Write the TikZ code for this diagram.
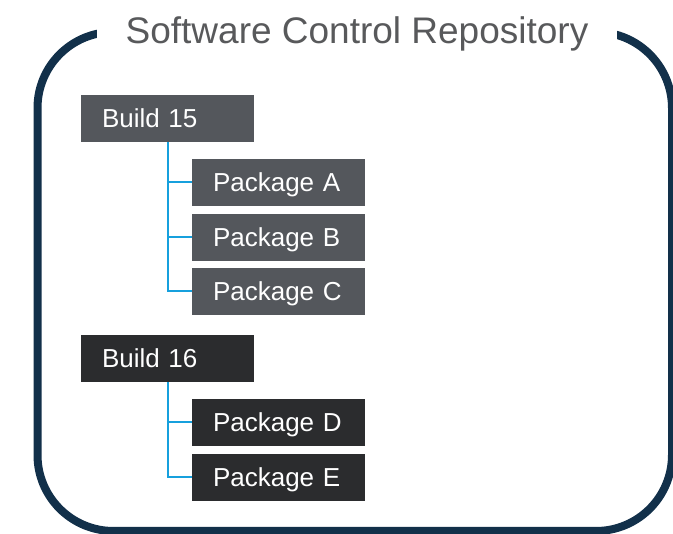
\documentclass[tikz,border=0pt]{standalone}
\usepackage{fontspec}
\setmainfont{Liberation Sans}
\definecolor{frameblue}{RGB}{18,48,74}
\definecolor{linkblue}{RGB}{22,160,221}
\definecolor{boxgray}{RGB}{84,87,92}
\definecolor{boxdark}{RGB}{43,44,46}
\definecolor{titlegray}{RGB}{88,89,91}

\begin{document}
\begin{tikzpicture}[x=1pt,y=-1pt,
  box/.style={text=white,text width=131pt,inner xsep=21pt,inner ysep=0pt,
    minimum height=47pt,text height=19pt,text depth=0pt,align=left,
    font=\fontsize{26}{30}\selectfont},
  link/.style={draw=linkblue,line width=2pt}]
\useasboundingbox (0,0) rectangle (673,534);
\draw[frameblue,line width=8pt,rounded corners=76pt](37.5,32) rectangle (672,531);
\node[fill=white,minimum width=520pt,inner ysep=2pt,anchor=base,text=titlegray,
  font=\fontsize{37}{40}\selectfont] (title) at (357,44){Software Control Repository};

\node[box,fill=boxgray] (build15) at (167.5,118.5){Build 15};
\node[box,fill=boxgray] (pkgA) at (278.5,182.5){Package A};
\node[box,fill=boxgray] (pkgB) at (278.5,237.5){Package B};
\node[box,fill=boxgray] (pkgC) at (278.5,291.5){Package C};

\node[box,fill=boxdark] (build16) at (167.5,358.5){Build 16};
\node[box,fill=boxdark] (pkgD) at (278.5,422.5){Package D};
\node[box,fill=boxdark] (pkgE) at (278.5,477.5){Package E};

\draw[link] (build15.south) |- (pkgA.west);
\draw[link] (build15.south) |- (pkgB.west);
\draw[link] (build15.south) |- (pkgC.west);
\draw[link] (build16.south) |- (pkgD.west);
\draw[link] (build16.south) |- (pkgE.west);
\end{tikzpicture}
\end{document}
